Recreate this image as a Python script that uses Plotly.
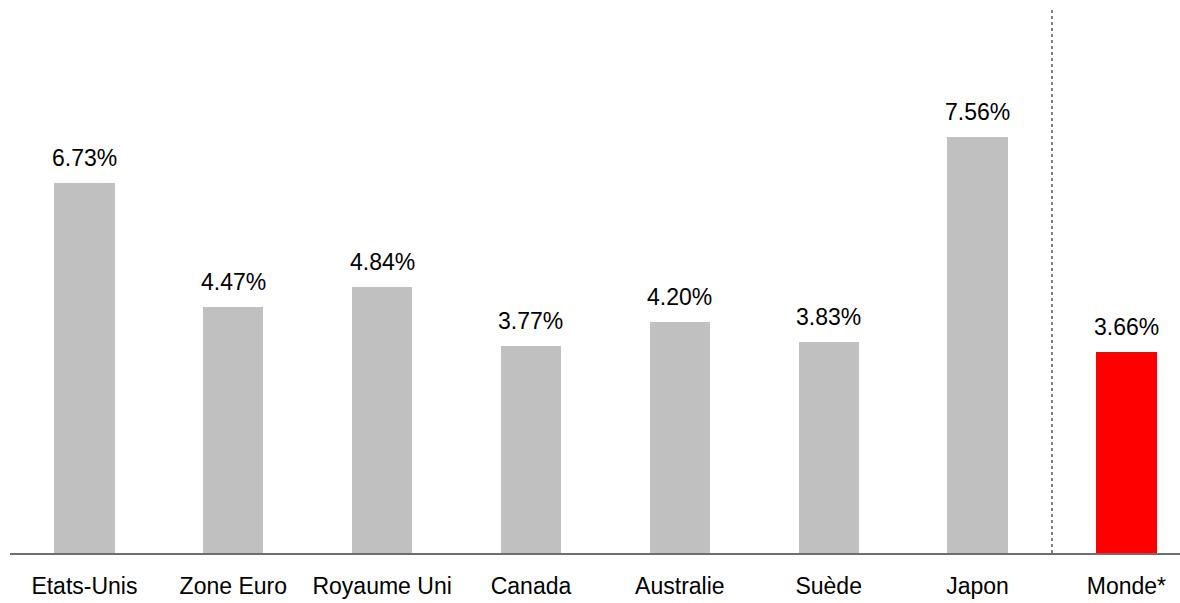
import plotly.graph_objects as go

categories = ["Etats-Unis", "Zone Euro", "Royaume Uni", "Canada", "Australie", "Suède", "Japon", "Monde*"]
values = [6.73, 4.47, 4.84, 3.77, 4.20, 3.83, 7.56, 3.66]
labels = ["6.73%", "4.47%", "4.84%", "3.77%", "4.20%", "3.83%", "7.56%", "3.66%"]
colors = ["#C0C0C0"] * 7 + ["#FF0000"]

xs = list(range(len(categories)))
font_family = "Liberation Sans, Arial, sans-serif"

fig = go.Figure()
fig.add_trace(go.Bar(x=xs, y=values, marker=dict(color=colors, line=dict(width=0)),
                     width=0.405, hoverinfo="skip"))

for x, v, t in zip(xs, values, labels):
    fig.add_annotation(x=x, y=v, text=t, showarrow=False, yanchor="bottom", yshift=10,
                       font=dict(family=font_family, size=23, color="#000000"))

sep = len(categories) - 1.5
fig.add_shape(type="line", x0=sep, x1=sep, y0=0, y1=9.91, xref="x", yref="y",
              line=dict(color="#000000", width=1, dash="dot"))

fig.update_layout(
    width=1180, height=603,
    margin=dict(l=10, r=0, t=3, b=50),
    paper_bgcolor="white", plot_bgcolor="white",
    showlegend=False,
    bargap=0,
    xaxis=dict(range=[-0.5, 7.36], tickmode="array", tickvals=xs, ticktext=categories,
               showgrid=False, zeroline=False, showline=True, linecolor="#6E6E6E", linewidth=1.5,
               ticks="", ticklabelstandoff=12,
               tickfont=dict(family=font_family, size=23, color="#000000")),
    yaxis=dict(range=[0, 10], showgrid=False, zeroline=False, showline=False,
               showticklabels=False, ticks=""),
)

fig.write_html("out.html")
